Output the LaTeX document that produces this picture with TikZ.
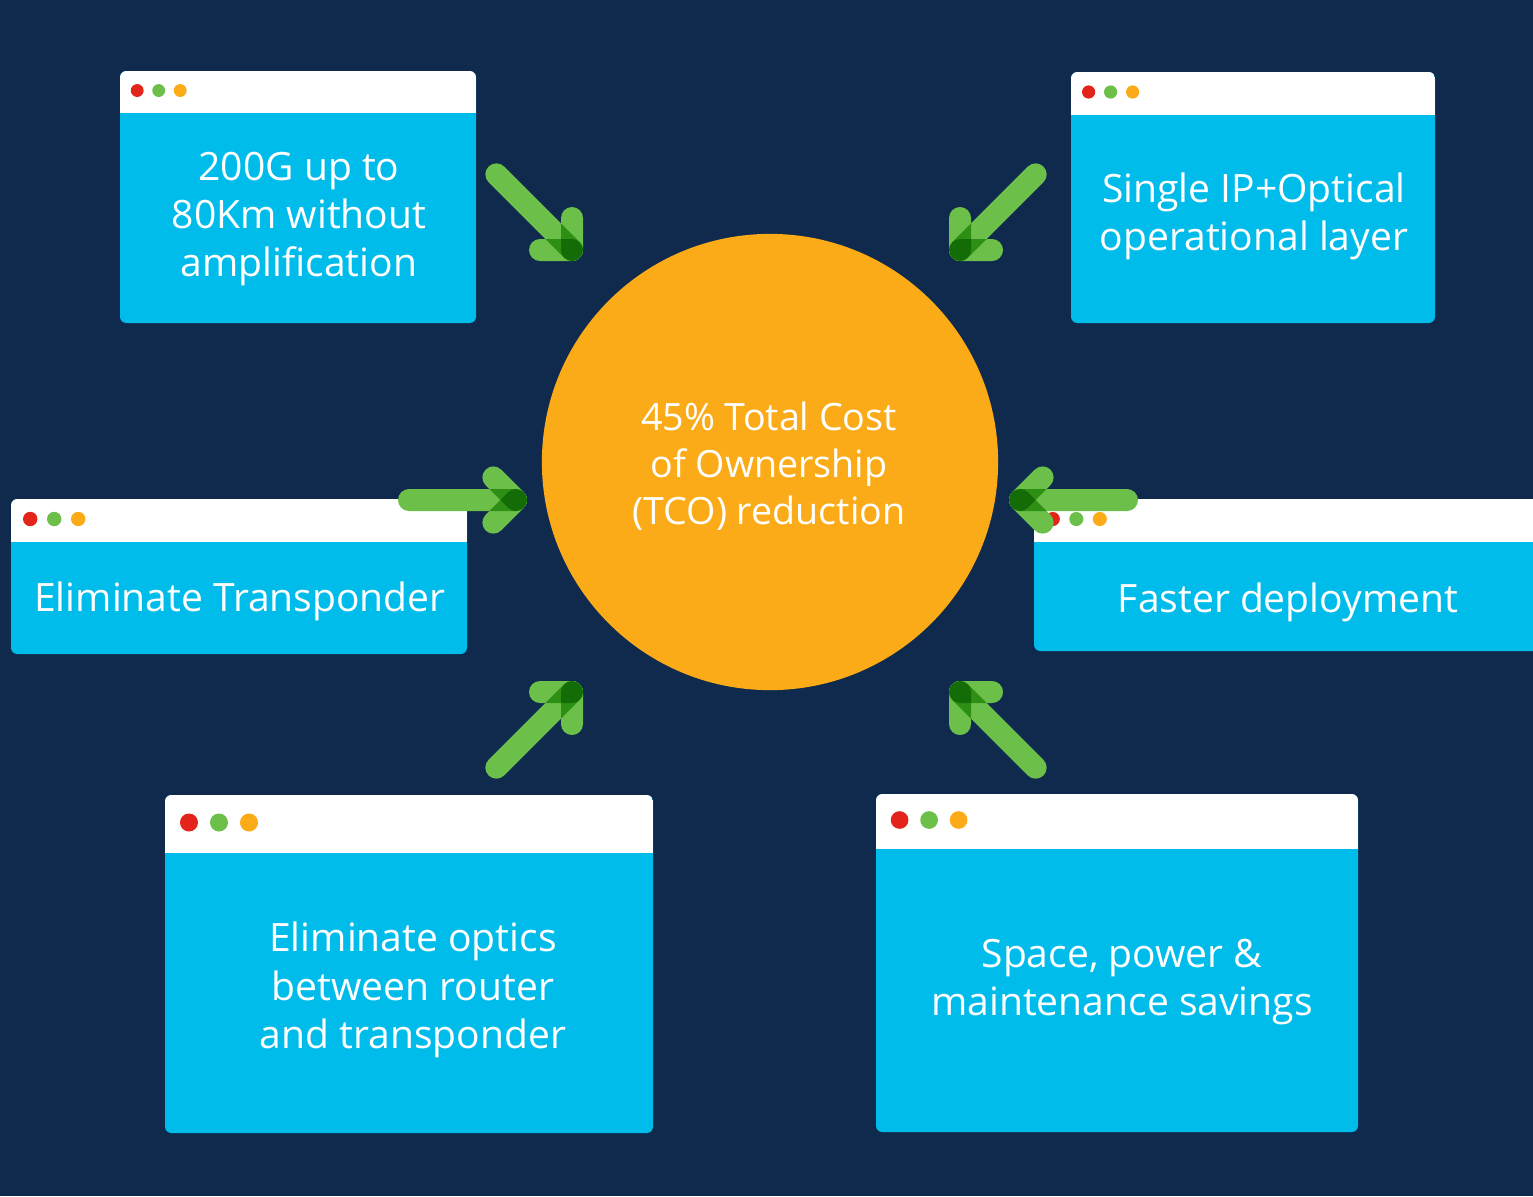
\documentclass[tikz,border=0pt]{standalone}
\usepackage{fontspec}
\setmainfont{Open Sans}
\usetikzlibrary{calc}

\definecolor{tconavy}{HTML}{0F2A4D}
\definecolor{panelblue}{HTML}{00BCEB}
\definecolor{tcoorange}{HTML}{FBAB18}
\definecolor{tcogreen}{HTML}{6CC04A}
\definecolor{dotred}{HTML}{E3241B}
\definecolor{dotgreen}{HTML}{6CC04A}
\definecolor{dotorange}{HTML}{FBAB18}

\tikzset{
  paneltext/.style={text=white, align=center, inner sep=0pt,
    font=\fontsize{11.1}{13.7}\selectfont},
  arrowstroke/.style={draw=tcogreen, line width=0.22cm, line cap=round},
}

% panel: left, top, right, bottom, bar bottom, dot spacing
\newcommand{\tcopanel}[7]{%
  \fill[panelblue, rounded corners=1.8pt] (#2,#3) rectangle (#4,#5);
  \begin{scope}
    \clip[rounded corners=1.8pt] (#2,#3) rectangle (#4,#5);
    \fill[white] (#2,#3) rectangle (#4,#6);
  \end{scope}
  \coordinate (#1-dot) at ({#2+0.8*#7},{(#3+#6)/2+1.5});
  \foreach \c [count=\i from 0] in {dotred,dotgreen,dotorange}
    \fill[\c] ($(#1-dot)+(\i*#7,0)$) circle ({0.3*#7});
}

% arrow: name, tip, direction
\newcommand{\tcoarrow}[3]{%
  \coordinate (#1-tip) at (#2);
  \coordinate (#1-tail) at ($(#1-tip)+(#3+180:107)$);
  \begin{scope}[transparency group]
    \begin{scope}[blend mode=multiply]
      \draw[arrowstroke] (#1-tail) -- (#1-tip);
      \draw[arrowstroke] (#1-tip) -- ++(#3+135:32);
      \draw[arrowstroke] (#1-tip) -- ++(#3+225:32);
    \end{scope}
  \end{scope}
}

\begin{document}
\begin{tikzpicture}[x=0.01cm, y=0.01cm]
  \fill[tconavy] (0,0) rectangle (1533,-1196);
  \useasboundingbox (0,0) rectangle (1533,-1196);

  % centre
  \node[circle, fill=tcoorange, minimum size=4.56cm, inner sep=0pt] (tco) at (770,-462) {};
  \node[paneltext, font=\fontsize{10.7}{13.3}\selectfont] (tco-txt) at (769,-466)
    {45\% Total Cost\\of Ownership\\(TCO) reduction};

  % panels
  \tcopanel{range}{120}{-71}{476}{-323}{-113}{21.5}
  \node[paneltext] (range-txt) at (299,-219) {200G up to\\80Km without\\amplification};

  \tcopanel{layer}{1071}{-72}{1435}{-323}{-115}{22}
  \node[paneltext] (layer-txt) at (1254,-216) {Single IP+Optical\\operational layer};

  \tcopanel{trans}{11}{-499}{467}{-654}{-542}{24}
  \node[paneltext] (trans-txt) at (240,-601) {Eliminate Transponder};

  \tcopanel{deploy}{1034}{-499}{1545}{-651}{-542}{23.5}
  \node[paneltext] (deploy-txt) at (1288,-602) {Faster deployment};

  \tcopanel{optics}{165}{-795}{653}{-1133}{-853}{30}
  \node[paneltext] (optics-txt) at (413,-990) {Eliminate optics\\between router\\and transponder};

  \tcopanel{space}{876}{-794}{1358}{-1132}{-849}{29.5}
  \node[paneltext] (space-txt) at (1122,-982) {Space, power \&\\maintenance savings};

  % arrows
  \tcoarrow{a1}{572,-250}{-45}
  \tcoarrow{a2}{960,-250}{-135}
  \tcoarrow{a3}{516,-500}{0}
  \tcoarrow{a4}{1020,-500}{180}
  \tcoarrow{a5}{572,-692}{45}
  \tcoarrow{a6}{960,-692}{135}
\end{tikzpicture}
\end{document}
